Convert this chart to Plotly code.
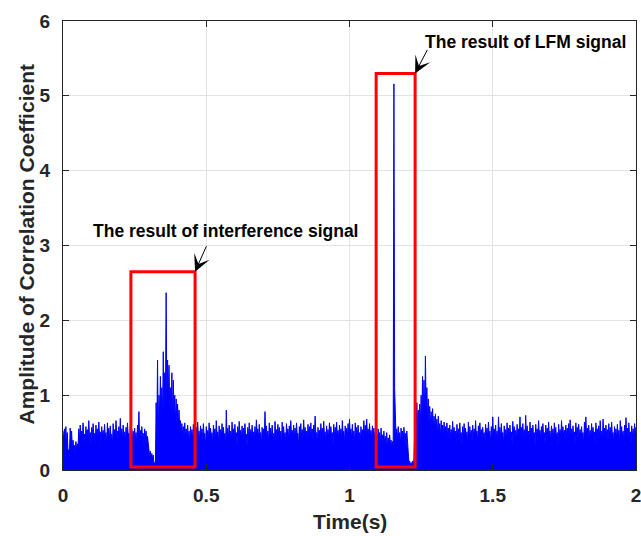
import plotly.graph_objects as go

# Time step of the read-off signal (s): peaks at t, troughs at t + half step
STEP = 0.005
time_s = [round(i * STEP, 3) for i in range(401)]

# Peak values of the correlation amplitude (one per 5 ms)
peaks = [
    0.52, 0.55, 0.58, 0.50, 0.27, 0.56, 0.52, 0.40, 0.33, 0.38,   # 0.00
    0.35, 0.55, 0.60, 0.52, 0.63, 0.48, 0.58, 0.54, 0.66, 0.50,   # 0.05
    0.57, 0.62, 0.49, 0.60, 0.55, 0.64, 0.51, 0.58, 0.53, 0.61,   # 0.10
    0.50, 0.63, 0.56, 0.59, 0.48, 0.62, 0.54, 0.66, 0.52, 0.58,   # 0.15
    0.69, 0.55, 0.60, 0.51, 0.57, 0.63, 0.49, 0.58, 0.54, 0.52,   # 0.20
    0.56, 0.50, 0.60, 0.78, 0.53, 0.58, 0.49, 0.55, 0.52, 0.45,   # 0.25
    0.27, 0.25, 0.22, 0.20, 0.10, 0.90, 1.47, 1.00, 1.25, 1.10,   # 0.30
    1.58, 1.30, 2.37, 1.47, 1.40, 1.10, 1.30, 1.20, 1.00, 0.95,   # 0.35
    0.88, 0.80, 0.66, 0.62, 0.58, 0.63, 0.55, 0.60, 0.52, 0.58,   # 0.40
    0.54, 0.61, 0.50, 0.57, 0.64, 0.52, 0.59, 0.55, 0.62, 0.49,   # 0.45
    0.58, 0.53, 0.63, 0.56, 0.50, 0.60, 0.55, 0.66, 0.51, 0.59,   # 0.50
    0.54, 0.62, 0.57, 0.49, 0.80, 0.56, 0.60, 0.52, 0.64, 0.55,   # 0.55
    0.61, 0.50, 0.58, 0.65, 0.53, 0.59, 0.56, 0.62, 0.48, 0.57,   # 0.60
    0.63, 0.54, 0.60, 0.51, 0.58, 0.67, 0.55, 0.61, 0.50, 0.57,   # 0.65
    0.55, 0.78, 0.59, 0.52, 0.63, 0.56, 0.60, 0.49, 0.65, 0.54,   # 0.70
    0.61, 0.57, 0.52, 0.64, 0.58, 0.50, 0.62, 0.55, 0.59, 0.66,   # 0.75
    0.53, 0.60, 0.56, 0.63, 0.49, 0.58, 0.62, 0.54, 0.67, 0.57,   # 0.80
    0.52, 0.61, 0.58, 0.63, 0.55, 0.60, 0.72, 0.50, 0.57, 0.53,   # 0.85
    0.62, 0.56, 0.65, 0.51, 0.59, 0.54, 0.63, 0.58, 0.50, 0.61,   # 0.90
    0.57, 0.64, 0.53, 0.60, 0.55, 0.66, 0.52, 0.59, 0.56, 0.62,   # 0.95
    0.68, 0.55, 0.61, 0.52, 0.63, 0.57, 0.60, 0.50, 0.58, 0.54,   # 1.00
    0.66, 0.60, 0.68, 0.55, 0.62, 0.53, 0.59, 0.56, 0.50, 0.48,   # 1.05
    0.55, 0.50, 0.56, 0.47, 0.52, 0.45, 0.50, 0.43, 0.47, 0.40,   # 1.10
    0.38, 5.16, 0.62, 0.55, 0.58, 0.50, 0.56, 0.52, 0.57, 0.49,   # 1.15
    0.52, 0.35, 0.12, 0.10, 0.12, 0.15, 0.85, 0.90, 0.80, 0.88,   # 1.20
    1.00, 1.25, 1.20, 1.52, 1.10, 0.95, 0.85, 0.78, 0.82, 0.72,   # 1.25
    0.75, 0.68, 0.72, 0.62, 0.66, 0.60, 0.64, 0.58, 0.63, 0.56,   # 1.30
    0.60, 0.54, 0.65, 0.57, 0.52, 0.61, 0.55, 0.63, 0.50, 0.58,   # 1.35
    0.62, 0.56, 0.51, 0.64, 0.58, 0.53, 0.60, 0.55, 0.66, 0.52,   # 1.40
    0.59, 0.63, 0.54, 0.57, 0.50, 0.61, 0.56, 0.64, 0.52, 0.58,   # 1.45
    0.71, 0.55, 0.60, 0.52, 0.71, 0.57, 0.62, 0.50, 0.59, 0.54,   # 1.50
    0.63, 0.56, 0.60, 0.51, 0.65, 0.58, 0.53, 0.61, 0.55, 0.71,   # 1.55
    0.57, 0.62, 0.54, 0.73, 0.59, 0.52, 0.64, 0.56, 0.60, 0.50,   # 1.60
    0.61, 0.55, 0.66, 0.53, 0.58, 0.62, 0.50, 0.60, 0.56, 0.64,   # 1.65
    0.52, 0.59, 0.55, 0.63, 0.57, 0.50, 0.61, 0.54, 0.66, 0.58,   # 1.70
    0.53, 0.60, 0.56, 0.62, 0.67, 0.55, 0.59, 0.51, 0.63, 0.57,   # 1.75
    0.61, 0.54, 0.58, 0.50, 0.64, 0.71, 0.56, 0.60, 0.53, 0.62,   # 1.80
    0.57, 0.51, 0.63, 0.55, 0.59, 0.66, 0.52, 0.68, 0.56, 0.60,   # 1.85
    0.54, 0.62, 0.57, 0.64, 0.50, 0.58, 0.55, 0.61, 0.53, 0.66,   # 1.90
    0.58, 0.52, 0.60, 0.70, 0.56, 0.63, 0.51, 0.59, 0.55, 0.62,   # 1.95
    0.57,
]

# Trough values (top of the dense band), half a step after each peak
troughs = [
    0.40, 0.42, 0.34, 0.25, 0.22, 0.42, 0.30, 0.25, 0.22, 0.28,   # 0.00
    0.30, 0.40, 0.45, 0.40, 0.46, 0.34, 0.44, 0.41, 0.45, 0.36,   # 0.05
    0.43, 0.46, 0.34, 0.44, 0.42, 0.47, 0.36, 0.45, 0.40, 0.44,   # 0.10
    0.34, 0.45, 0.42, 0.44, 0.31, 0.46, 0.41, 0.47, 0.40, 0.43,   # 0.15
    0.45, 0.42, 0.44, 0.36, 0.43, 0.46, 0.31, 0.44, 0.41, 0.40,   # 0.20
    0.42, 0.34, 0.45, 0.40, 0.41, 0.44, 0.32, 0.42, 0.34, 0.30,   # 0.25
    0.20, 0.18, 0.15, 0.08, 0.05, 0.50, 0.40, 0.70, 0.75, 0.70,   # 0.30
    0.80, 0.85, 0.90, 0.95, 0.80, 0.75, 0.70, 0.72, 0.65, 0.62,   # 0.35
    0.60, 0.55, 0.50, 0.46, 0.44, 0.45, 0.40, 0.44, 0.34, 0.42,   # 0.40
    0.40, 0.45, 0.34, 0.42, 0.46, 0.36, 0.44, 0.41, 0.45, 0.31,   # 0.45
    0.43, 0.40, 0.46, 0.42, 0.34, 0.44, 0.41, 0.47, 0.36, 0.43,   # 0.50
    0.41, 0.45, 0.42, 0.31, 0.44, 0.42, 0.44, 0.36, 0.46, 0.41,   # 0.55
    0.44, 0.34, 0.43, 0.47, 0.40, 0.43, 0.42, 0.45, 0.31, 0.42,   # 0.60
    0.46, 0.41, 0.44, 0.36, 0.43, 0.47, 0.41, 0.45, 0.34, 0.42,   # 0.65
    0.41, 0.45, 0.43, 0.36, 0.46, 0.42, 0.44, 0.31, 0.47, 0.40,   # 0.70
    0.44, 0.42, 0.36, 0.46, 0.43, 0.34, 0.45, 0.41, 0.43, 0.47,   # 0.75
    0.40, 0.44, 0.42, 0.46, 0.31, 0.43, 0.45, 0.41, 0.47, 0.42,   # 0.80
    0.36, 0.45, 0.43, 0.46, 0.41, 0.44, 0.47, 0.34, 0.42, 0.40,   # 0.85
    0.45, 0.42, 0.47, 0.36, 0.44, 0.41, 0.46, 0.43, 0.34, 0.44,   # 0.90
    0.42, 0.46, 0.40, 0.44, 0.41, 0.47, 0.36, 0.43, 0.42, 0.45,   # 0.95
    0.46, 0.41, 0.44, 0.36, 0.46, 0.42, 0.44, 0.34, 0.43, 0.40,   # 1.00
    0.46, 0.44, 0.47, 0.41, 0.45, 0.40, 0.43, 0.42, 0.34, 0.36,   # 1.05
    0.40, 0.31, 0.41, 0.35, 0.34, 0.33, 0.31, 0.32, 0.35, 0.30,   # 1.10
    0.30, 1.10, 0.42, 0.40, 0.43, 0.34, 0.42, 0.36, 0.41, 0.31,   # 1.15
    0.34, 0.10, 0.05, 0.04, 0.05, 0.40, 0.60, 0.62, 0.58, 0.60,   # 1.20
    0.65, 0.75, 0.70, 0.80, 0.70, 0.62, 0.58, 0.55, 0.56, 0.52,   # 1.25
    0.52, 0.48, 0.50, 0.45, 0.47, 0.44, 0.46, 0.42, 0.45, 0.41,   # 1.30
    0.44, 0.40, 0.46, 0.42, 0.36, 0.44, 0.41, 0.45, 0.34, 0.43,   # 1.35
    0.45, 0.42, 0.34, 0.46, 0.43, 0.36, 0.44, 0.41, 0.47, 0.36,   # 1.40
    0.43, 0.46, 0.41, 0.42, 0.34, 0.45, 0.42, 0.46, 0.36, 0.43,   # 1.45
    0.46, 0.41, 0.44, 0.36, 0.45, 0.42, 0.45, 0.34, 0.43, 0.40,   # 1.50
    0.46, 0.42, 0.44, 0.34, 0.47, 0.43, 0.40, 0.45, 0.41, 0.46,   # 1.55
    0.42, 0.45, 0.40, 0.46, 0.43, 0.36, 0.46, 0.41, 0.44, 0.31,   # 1.60
    0.45, 0.41, 0.47, 0.40, 0.43, 0.45, 0.34, 0.44, 0.42, 0.46,   # 1.65
    0.36, 0.43, 0.41, 0.46, 0.42, 0.34, 0.45, 0.40, 0.47, 0.43,   # 1.70
    0.40, 0.44, 0.42, 0.45, 0.47, 0.41, 0.43, 0.34, 0.46, 0.42,   # 1.75
    0.45, 0.40, 0.43, 0.31, 0.46, 0.47, 0.42, 0.44, 0.40, 0.45,   # 1.80
    0.42, 0.34, 0.46, 0.41, 0.43, 0.47, 0.36, 0.46, 0.42, 0.44,   # 1.85
    0.40, 0.45, 0.42, 0.46, 0.31, 0.43, 0.41, 0.45, 0.36, 0.47,   # 1.90
    0.43, 0.36, 0.44, 0.46, 0.42, 0.46, 0.34, 0.43, 0.41, 0.45,   # 1.95
    0.42,
]
assert len(peaks) == len(time_s) == len(troughs), (len(peaks), len(troughs))

# Highlight boxes: [x0, x1, y0, y1]
interf_box = [0.237, 0.461, 0.04, 2.65]
lfm_box = [1.093, 1.229, 0.04, 5.30]

x_ticks = [0, 0.5, 1, 1.5, 2]
y_ticks = [0, 1, 2, 3, 4, 5, 6]

# Plotted line: peak at each step, trough half a step later
xs, ys = [], []
for t, p, q in zip(time_s, peaks, troughs):
    xs += [t, t + STEP / 2]
    ys += [p, q]

FONT = "Liberation Sans, Arial, sans-serif"

fig = go.Figure()
fig.add_trace(go.Scatter(x=xs, y=ys, mode="lines", fill="tozeroy", fillcolor="#0000ff",
                         line=dict(color="#0000ff", width=1),
                         hoverinfo="skip", showlegend=False))

for b in (interf_box, lfm_box):
    fig.add_shape(type="rect", xref="x", yref="y",
                  x0=b[0], x1=b[1], y0=b[2], y1=b[3],
                  line=dict(color="#ff0000", width=3), fillcolor="rgba(0,0,0,0)")

# Labels
fig.add_annotation(x=0.567, y=3.19, xref="x", yref="y", text="<b>The result of interference signal</b>",
                   showarrow=False, font=dict(family=FONT, size=17.5, color="black"))
fig.add_annotation(x=1.614, y=5.72, xref="x", yref="y", text="<b>The result of LFM signal</b>",
                   showarrow=False, font=dict(family=FONT, size=17.5, color="black"))
# Arrows
fig.add_annotation(x=interf_box[1], y=interf_box[3], xref="x", yref="y", text="",
                   showarrow=True, ax=12, ay=-27, axref="pixel", ayref="pixel",
                   arrowhead=3, arrowsize=2.8, arrowwidth=1, arrowcolor="black", standoff=0)
fig.add_annotation(x=lfm_box[1], y=lfm_box[3], xref="x", yref="y", text="",
                   showarrow=True, ax=13, ay=-25, axref="pixel", ayref="pixel",
                   arrowhead=3, arrowsize=2.8, arrowwidth=1, arrowcolor="black", standoff=0)

# Axis titles
fig.add_annotation(x=0.5, y=-0.1136, xref="paper", yref="paper", text="<b>Time(s)</b>",
                   showarrow=False, font=dict(family=FONT, size=21, color="#262626"),
                   xanchor="center", yanchor="middle")
fig.add_annotation(x=-0.0639, y=0.503, xref="paper", yref="paper",
                   text="<b>Amplitude of Correlation Coefficient</b>", textangle=-90,
                   showarrow=False, font=dict(family=FONT, size=21, color="#262626"),
                   xanchor="center", yanchor="middle")

axis_common = dict(showline=True, linecolor="#262626", linewidth=1, mirror="ticks",
                   ticks="inside", ticklen=6, tickcolor="#262626", tickwidth=1,
                   showgrid=True, gridcolor="#e3e3e3", gridwidth=1, zeroline=False,
                   ticklabeloverflow="allow", automargin=False,
                   tickfont=dict(family=FONT, size=19, color="#262626", weight="bold"))

fig.update_xaxes(range=[0, 2], tickvals=x_ticks, ticktext=[str(v) for v in x_ticks],
                 ticklabelstandoff=8, **axis_common)
fig.update_yaxes(range=[0, 6], tickvals=y_ticks, ticktext=[str(v) for v in y_ticks],
                 ticklabelstandoff=8, **axis_common)

fig.update_layout(width=641, height=536, margin=dict(l=63, r=5, t=21, b=66),
                  plot_bgcolor="white", paper_bgcolor="white", showlegend=False)

fig.write_html("out.html")
